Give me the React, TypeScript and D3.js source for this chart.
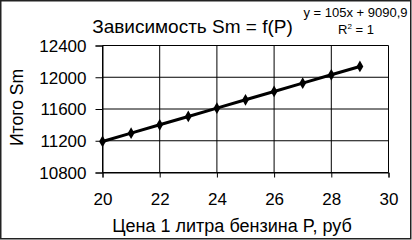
import React, { useEffect, useRef } from "react";
import * as d3 from "d3";

// price of 1 litre, rub
const prices = [20, 21, 22, 23, 24, 25, 26, 27, 28, 29];
// total Sm
const totals = [11190.9, 11295.9, 11400.9, 11505.9, 11610.9, 11715.9, 11820.9, 11925.9, 12030.9, 12135.9];
const xTicks = [20, 22, 24, 26, 28, 30];
const yTicks = [10800, 11200, 11600, 12000, 12400];

const W = 412;
const H = 240;
const FONT = "'Liberation Sans', Arial, sans-serif";

export default function App() {
  const svgRef = useRef<SVGSVGElement>(null);

  useEffect(() => {
    const svg = d3.select(svgRef.current);
    svg.selectAll("*").remove();

    const left = 102.5, right = 388.5, top = 45.5, bottom = 172.5;
    const x = d3.scaleLinear().domain([20, 30]).range([left, right]);
    const y = d3.scaleLinear().domain([10800, 12400]).range([bottom, top]);

    // frame
    svg.append("rect")
      .attr("x", 0.75).attr("y", 0.75)
      .attr("width", W - 2).attr("height", H - 2)
      .attr("fill", "white")
      .attr("stroke", "#222").attr("stroke-width", 1.5);

    const g = svg.append("g");

    // grid
    g.selectAll(".hgrid").data(yTicks).enter().append("line")
      .attr("x1", left).attr("x2", right)
      .attr("y1", d => y(d)).attr("y2", d => y(d))
      .attr("stroke", "#000").attr("stroke-width", 1);
    g.selectAll(".vgrid").data(xTicks).enter().append("line")
      .attr("x1", d => x(d)).attr("x2", d => x(d))
      .attr("y1", top).attr("y2", bottom)
      .attr("stroke", "#000").attr("stroke-width", 1);

    // axes
    const xAxis = g.append("g")
      .attr("transform", `translate(0,${bottom})`)
      .call(d3.axisBottom(x).tickValues(xTicks).tickSize(5).tickPadding(15).tickFormat(d3.format("d")));
    const yAxis = g.append("g")
      .attr("transform", `translate(${left},0)`)
      .call(d3.axisLeft(y).tickValues(yTicks).tickSize(7).tickPadding(9).tickFormat(d3.format("d")));
    [xAxis, yAxis].forEach(a => {
      a.selectAll(".domain, .tick line").attr("stroke", "#000").attr("stroke-width", 1);
      a.selectAll("text").attr("fill", "#000").style("font-family", FONT).style("font-size", "17px");
    });
    yAxis.selectAll("text").attr("dy", "0.35em");
    xAxis.selectAll("text").attr("dy", "0.75em");

    // series
    const pts = prices.map((p, i) => ({ p, v: totals[i] }));
    g.append("path")
      .datum(pts)
      .attr("fill", "none")
      .attr("stroke", "#000")
      .attr("stroke-width", 3)
      .attr("d", d3.line<{ p: number; v: number }>().x(d => x(d.p)).y(d => y(d.v)));
    g.selectAll(".pt").data(pts).enter().append("path")
      .attr("transform", d => `translate(${x(d.p)},${y(d.v)})`)
      .attr("d", d3.symbol().type(d3.symbolDiamond).size(40)())
      .attr("fill", "#000");

    // titles
    svg.append("text")
      .attr("x", 192.5).attr("y", 33)
      .attr("text-anchor", "middle")
      .style("font-family", FONT).style("font-size", "19px")
      .text("Зависимость Sm = f(P)");

    svg.append("text")
      .attr("transform", "translate(23,107.5) rotate(-90)")
      .attr("text-anchor", "middle")
      .style("font-family", FONT).style("font-size", "17.5px")
      .text("Итого Sm");

    svg.append("text")
      .attr("x", 232).attr("y", 232)
      .attr("text-anchor", "middle")
      .style("font-family", FONT).style("font-size", "18px")
      .text("Цена 1 литра бензина P, руб");

    // trend equation
    const eq = svg.append("g").style("font-family", FONT).style("font-size", "13px");
    eq.append("text").attr("x", 355.5).attr("y", 17).attr("text-anchor", "middle").text("y = 105x + 9090,9");
    const r2 = eq.append("text").attr("x", 356).attr("y", 34).attr("text-anchor", "middle");
    r2.append("tspan").text("R");
    r2.append("tspan").attr("dy", -5).style("font-size", "8px").text("2");
    r2.append("tspan").attr("dy", 5).text(" = 1");
  }, []);

  return (
    <svg
      ref={svgRef}
      width={W}
      height={H}
      style={{ position: "absolute", left: 0, top: 0, display: "block" }}
    />
  );
}
